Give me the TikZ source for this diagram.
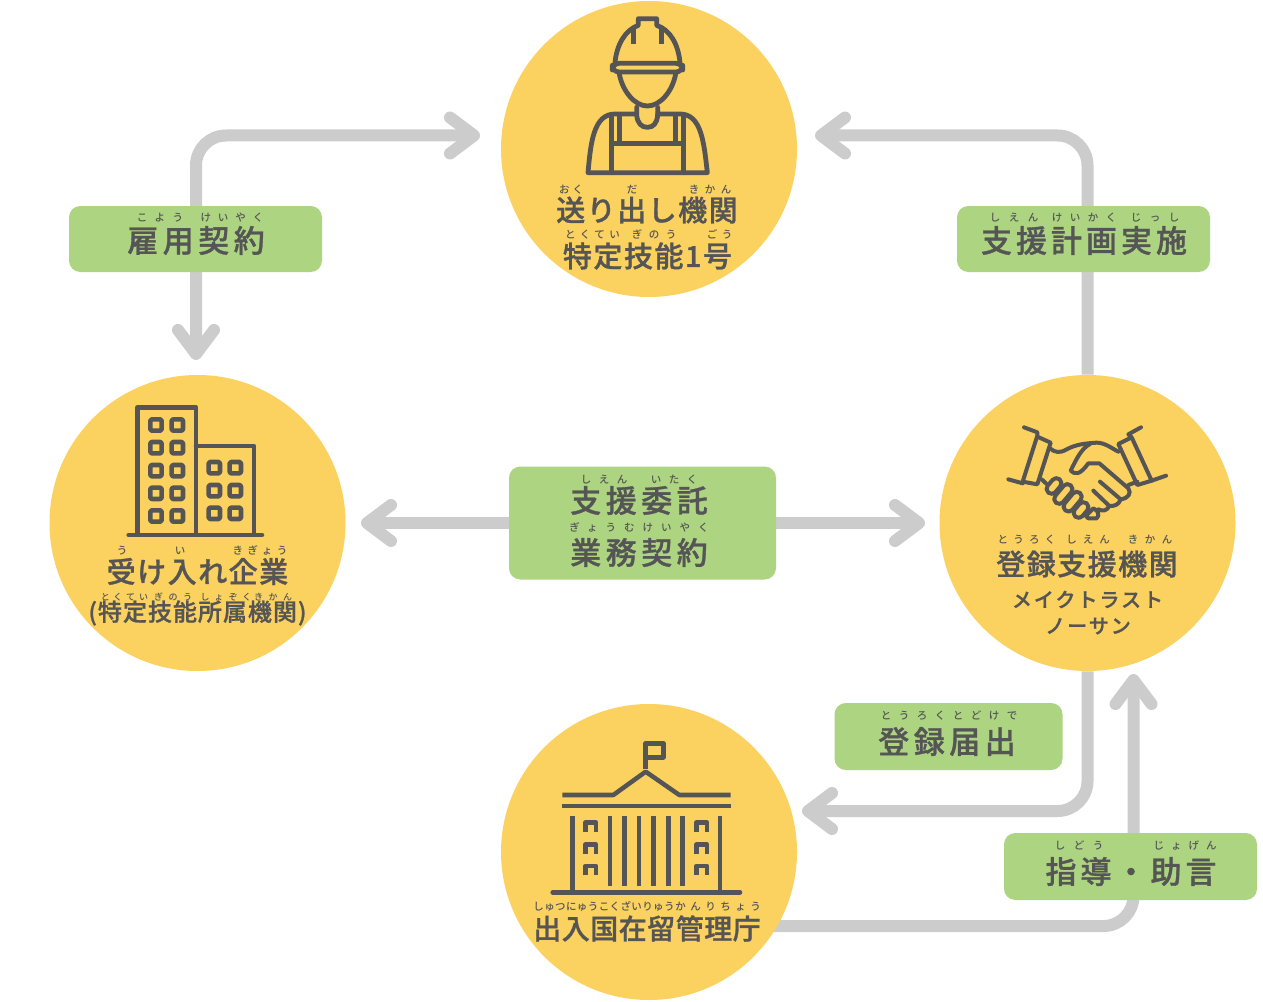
\documentclass[tikz,border=0pt]{standalone}
\usepackage{fontspec}
\usetikzlibrary{arrows.meta,backgrounds}
\setmainfont{Noto Sans CJK JP}[BoldFont={Noto Sans CJK JP Medium}]
\definecolor{ink}{HTML}{555555}
\definecolor{sun}{HTML}{FBD160}
\definecolor{leaf}{HTML}{ACD481}
\definecolor{wire}{HTML}{CCCCCC}
\tikzset{
  hub/.style={circle,fill=sun,minimum size=222pt,inner sep=0pt},
  tag/.style={fill=leaf,rounded corners=8.5pt,inner sep=0pt},
  conn/.style={draw=wire,line width=9pt,rounded corners=22.5pt},
  chev/.tip={Straight Barb[round,length=18pt,width=27pt]},
  txt/.style={text=ink,inner sep=0pt,anchor=center},
  icon/.style={draw=ink,line width=3.4pt,line join=round,line cap=round},
}
% name, x, y, size px, pitch px, text
\newcommand\tb[6]{\pgfmathsetmacro{\lsv}{(#5-#4)/#4*100}%
  \node[txt] (#1) at (#2,#3) {\fontsize{\fpeval{0.75*#4}}{\fpeval{0.9*#4}}\selectfont\bfseries\addfontfeature{LetterSpace=\lsv,FakeBold=1}#6};}
\newcommand\tr[6]{\pgfmathsetmacro{\lsv}{(#5-#4)/#4*100}%
  \node[txt] (#1) at (#2,#3) {\fontsize{\fpeval{0.75*#4}}{\fpeval{0.9*#4}}\selectfont\bfseries\addfontfeature{LetterSpace=\lsv}#6};}
\begin{document}
\begin{tikzpicture}[x=0.75pt,y=-0.75pt]
\useasboundingbox (0,0) rectangle (1263,1002);
\begin{pgfonlayer}{background}
\fill[white] (0,0) rectangle (1263,1002);
\end{pgfonlayer}
% hubs
\node[hub] (ct) at (649,149) {};
\node[hub] (cl) at (197.5,523) {};
\node[hub] (cr) at (1087.5,523) {};
\node[hub] (cb) at (649,852) {};
% free ends
\coordinate (a1) at (196,360);
\coordinate (a2) at (480,135.5);
\coordinate (b1) at (815,135.5);
\coordinate (c1) at (361,523);
\coordinate (c2) at (925,523);
\coordinate (d1) at (802,811);
\coordinate (e0) at (700,926);
\coordinate (e1) at (1133.5,674);
% tags
\node[tag,minimum width=189.75pt,minimum height=49.5pt] (ta) at (195.5,239) {};
\node[tag,minimum width=189.75pt,minimum height=49.5pt] (tb) at (1083.5,239) {};
\node[tag,minimum width=200.25pt,minimum height=84.75pt] (tc) at (642.5,523) {};
\node[tag,minimum width=171pt,minimum height=50.25pt] (td) at (948.5,736.5) {};
\node[tag,minimum width=189.75pt,minimum height=50.25pt] (te) at (1130.5,866.5) {};
% connectors
\begin{pgfonlayer}{background}
\draw[conn,{chev}-{chev}] (a1) |- (a2);
\draw[conn,-{chev}] (cr.north) |- (b1);
\draw[conn,-{chev}] (tc.west) -- (c1);
\draw[conn,-{chev}] (tc.east) -- (c2);
\draw[conn,-{chev}] (cr.south) |- (d1);
\draw[conn,-{chev}] (e0) -| (e1);
\end{pgfonlayer}
% top hub text
\tr{r1}{571}{189.5}{10.5}{13.5}{おく}
\tr{r2}{632}{189.5}{10.5}{10.5}{だ}
\tr{r3}{710}{189.5}{10.5}{16}{きかん}
\tb{m1}{647}{210}{29}{30.5}{送り出し機関}
\tr{r4}{592.5}{234.5}{10.5}{15}{とくてい}
\tr{r5}{654}{234.5}{10.5}{17}{ぎのう}
\tr{r6}{719.5}{234.5}{10.5}{15}{ごう}
\tb{m2}{647.5}{256}{29}{30.5}{特定技能1号}
% left hub text
\tr{r7}{122}{550.5}{10.5}{10.5}{う}
\tr{r8}{180}{550.5}{10.5}{10.5}{い}
\tr{r9}{260}{550.5}{10.5}{15}{きぎょう}
\tb{m3}{197.5}{571.5}{29}{30.5}{受け入れ企業}
\tr{r10}{124.5}{597}{9}{13}{とくてい}
\tr{r11}{173}{597}{9}{14.5}{ぎのう}
\tr{r12}{226}{597}{9}{14}{しょぞく}
\tr{r13}{273}{597}{9}{14.5}{きかん}
\tb{m4}{197.5}{613}{24}{25}{(特定技能所属機関)}
% right hub text
\tr{r14}{1026.5}{539.5}{10.5}{15.7}{とうろく}
\tr{r15}{1088}{539.5}{10.5}{16.5}{しえん}
\tr{r16}{1150}{539.5}{10.5}{17}{きかん}
\tb{m5}{1087}{564}{29}{30.5}{登録支援機関}
\tb{m6}{1087.5}{599.5}{20}{22}{メイクトラスト}
\tb{m7}{1088}{626}{20}{22}{ノーサン}
% bottom hub text
\tr{r17}{604}{906.5}{10.5}{10.9}{しゅつにゅうこくざいりゅう}
\tr{r18}{718}{906.5}{10.5}{15}{かんりちょう}
\tb{m8}{647}{928.5}{28}{28.5}{出入国在留管理庁}
% tag text
\tr{r19}{160}{217.5}{10.5}{18}{こよう}
\tr{r20}{232}{217.5}{10.5}{17.5}{けいやく}
\tb{m9}{196}{240.5}{31}{35.5}{雇用契約}
\tr{r21}{1014}{217.5}{10.5}{19}{しえん}
\tr{r22}{1084}{217.5}{10.5}{18}{けいかく}
\tr{r23}{1155}{217.5}{10.5}{19}{じっし}
\tb{m10}{1084}{240.5}{31}{35}{支援計画実施}
\tr{r24}{604}{479.5}{10.5}{18}{しえん}
\tr{r25}{674}{479.5}{10.5}{18}{いたく}
\tb{m11}{639}{500.5}{31}{35.5}{支援委託}
\tr{r26}{639}{527.5}{10.5}{18.5}{ぎょうむけいやく}
\tb{m12}{639}{552.5}{31}{35.5}{業務契約}
\tr{r27}{949}{715.5}{10.5}{18}{とうろくとどけで}
\tb{m13}{947}{741.5}{31}{35.5}{登録届出}
\tr{r28}{1079}{845.5}{10.5}{19}{しどう}
\tr{r29}{1185}{845.5}{10.5}{17.5}{じょげん}
\tb{m14}{1131}{871.5}{31}{35}{指導・助言}
% worker icon
\begin{scope}[shift={(500,0)},x=0.25pt,y=-0.25pt,icon,line width=3.6pt]
\draw[rounded corners=5pt] (337,190) rectangle (548,216);
\draw (345,188) .. controls (350,135) and (375,90) .. (415,76) -- (415,56) -- (470,56) -- (470,76) .. controls (512,90) and (535,135) .. (540,188);
\draw[line cap=butt] (400,88) -- (400,132) (485,88) -- (485,132);
\draw (358,222) .. controls (368,275) and (405,318) .. (442,318) .. controls (480,318) and (517,275) .. (527,222);
\draw (410,322) -- (410,345) .. controls (412,370) and (425,382) .. (442,382) .. controls (460,382) and (471,370) .. (473,345) -- (473,322);
\draw (410,342) -- (345,342) .. controls (280,342) and (272,430) .. (264,518) -- (622,518) .. controls (612,430) and (605,342) .. (540,342) -- (473,342);
\draw (335,345) -- (335,518) (358,345) -- (358,430) (550,345) -- (550,518) (527,345) -- (527,430) (335,430) -- (550,430);
\end{scope}
% building icon
\begin{scope}[shift={(50,375)},x=0.25pt,y=-0.25pt,icon]
\draw (262,478) -- (262,97) -- (438,97) -- (438,478);
\draw (438,213) -- (612,213) -- (612,478);
\draw (236,480) -- (636,480);
\foreach \wx in {318,382} \foreach \wy in {150,218,287,355,423}
  \draw[rounded corners=1pt] (\wx-17,\wy-17) rectangle (\wx+17,\wy+17);
\foreach \wx in {493,556} \foreach \wy in {278,347,415}
  \draw[rounded corners=1pt] (\wx-17,\wy-17) rectangle (\wx+17,\wy+17);
\end{scope}
% handshake icon
\begin{scope}[shift={(1000,420)},x=0.25pt,y=-0.25pt,icon,line width=3pt]
\draw (72,22) -- (112,37) -- (112,47) -- (68,185) -- (112,193) -- (152,68) -- (112,50);
\draw (25,178) -- (68,190);
\draw (423,22) -- (385,43) -- (395,52) -- (355,72) -- (412,195) -- (455,182) -- (395,52);
\draw (455,182) -- (498,167);
\draw (150,85) .. controls (165,98) and (180,100) .. (200,88) .. controls (230,72) and (260,70) .. (290,68) .. controls (315,68) and (335,85) .. (355,95);
\draw (270,72) .. controls (245,85) and (230,115) .. (212,152) .. controls (225,165) and (240,165) .. (265,130) -- (298,130) -- (385,205) .. controls (395,220) and (385,235) .. (362,238) -- (300,185);
\draw (362,238) .. controls (355,255) and (345,258) .. (328,258) -- (280,212);
\draw (328,258) .. controls (320,272) and (310,275) .. (295,268);
\draw (125,178) -- (140,192);
\draw (385,195) -- (412,185);
\foreach \cx/\cy/\hl in {162/198/26,190/222/34,218/245/34,243/270/26}
  \draw[fill=sun,rounded corners=3.6pt,shift={(\cx,\cy)},rotate=50] (-\hl,-15) rectangle (\hl,15);
\draw (262,283) -- (280,265) .. controls (295,272) and (300,285) .. (290,295) -- (265,295) -- (258,288);
\end{scope}
% government icon
\begin{scope}[shift={(500,700)},x=0.25pt,y=-0.25pt,icon,line cap=butt]
\draw (437,208) -- (437,130) -- (490,130) -- (490,172) -- (437,172);
\draw (187,285) -- (340,285) -- (437,215) -- (538,285) -- (692,285);
\draw (187,318) -- (692,318);
\foreach \px in {217,660} \draw (\px,347) -- (\px,575);
\foreach \px in {330,373,417,461,505,548} \draw (\px,347) -- (\px,557);
\draw[line cap=round] (158,577) -- (720,577);
\foreach \wy in {362,428,492} \foreach \wx in {250,583} {
  \draw (\wx+6,\wy+34) -- (\wx+6,\wy+6) -- (\wx+38,\wy+6) -- (\wx+38,\wy+34);
}
\end{scope}
\end{tikzpicture}
\end{document}
